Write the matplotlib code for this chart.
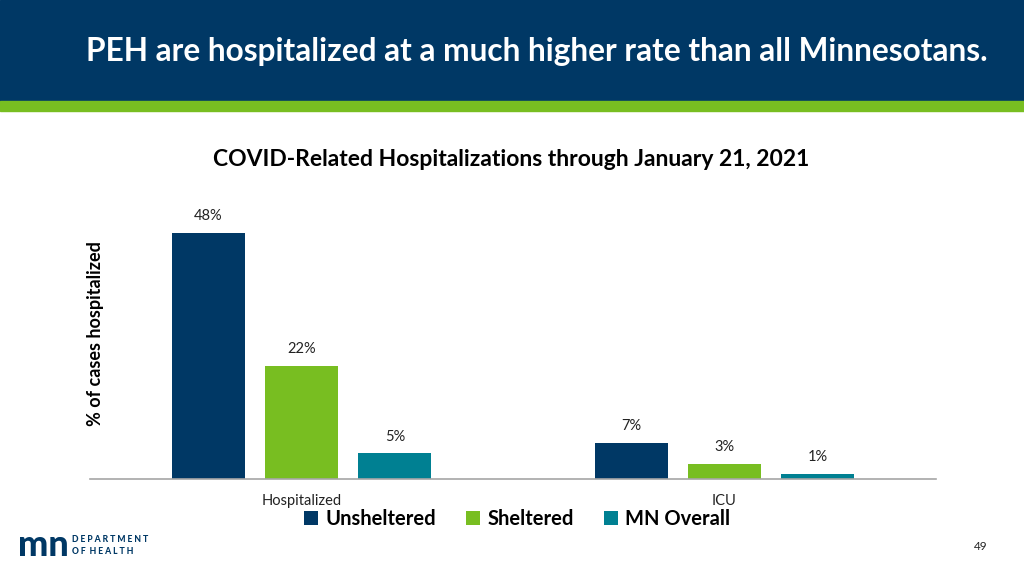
import matplotlib.pyplot as plt
import numpy as np
from matplotlib.patches import Rectangle

plt.rcParams['font.family'] = ['Lato', 'DejaVu Sans']

# data
groups = ["Hospitalized", "ICU"]
series = ["Unsheltered", "Sheltered", "MN Overall"]
unsheltered = [48, 7]
sheltered = [22, 3]
mn_overall = [5, 1]
colors = ["#003865", "#78BE21", "#008092"]

navy = "#003865"
green = "#78BE21"

fig = plt.figure(figsize=(10.24, 5.76), dpi=100)

# header banner
fig.patches.append(Rectangle((0, 1 - 101 / 576), 1, 101 / 576, transform=fig.transFigure,
                             color=navy, zorder=0))
fig.patches.append(Rectangle((0, 1 - 111 / 576), 1, 10 / 576, transform=fig.transFigure,
                             color=green, zorder=0))
fig.text(86 / 1024, 1 - 51 / 576, "PEH are hospitalized at a much higher rate than all Minnesotans.",
         color="white", fontsize=22.8, fontweight="bold", va="center", ha="left")

# chart
ax = fig.add_axes([90 / 1024, 1 - 479 / 576, 846 / 1024, 279 / 576])
x = np.arange(len(groups))
off = 0.221
w = 0.1726
for i, (vals, c) in enumerate(zip([unsheltered, sheltered, mn_overall], colors)):
    bars = ax.bar(x + (i - 1) * off, vals, width=w, color=c, label=series[i], zorder=2)
    for b, v in zip(bars, vals):
        ax.annotate(f"{v}%", (b.get_x() + b.get_width() / 2, v), xytext=(0, 7),
                    textcoords="offset points", ha="center", va="bottom",
                    fontsize=10.5, color="#222222")

ax.set_xlim(-0.5, 1.5)
ax.set_ylim(0, 54.4)
ax.set_yticks([])
ax.set_xticks(x)
ax.set_xticklabels(groups, fontsize=10.5, color="#222222")
ax.tick_params(axis="x", length=0, pad=11)
for s in ["top", "right", "left"]:
    ax.spines[s].set_visible(False)
ax.spines["bottom"].set_color("#a6a6a6")
ax.spines["bottom"].set_linewidth(1.2)

fig.text(96 / 1024, 1 - 334 / 576, "% of cases hospitalized", rotation=90, fontsize=13,
         fontweight="bold", va="center", ha="center", color="black")
fig.text(511 / 1024, 1 - 160 / 576, "COVID-Related Hospitalizations through January 21, 2021",
         fontsize=16.5, fontweight="bold", ha="center", va="center", color="black")

leg = fig.legend(loc="center", bbox_to_anchor=(517 / 1024, 1 - 519 / 576), ncol=3, frameon=False,
                 prop={"size": 14.5, "weight": "bold"}, handlelength=0.7, handleheight=0.7,
                 handletextpad=0.35, columnspacing=1.5, borderaxespad=0)

# logo
fig.text(18 / 1024, 1 - 546 / 576, "mn", fontsize=26, fontweight="black", color=navy,
         va="center", ha="left")
fig.text(72 / 1024, 1 - 540 / 576, "D E P A R T M E N T", fontsize=6.2, fontweight="black",
         color=navy, va="center", ha="left")
fig.text(72 / 1024, 1 - 551 / 576, "O F  H E A L T H", fontsize=6.2, fontweight="black",
         color=navy, va="center", ha="left")

fig.text(981 / 1024, 1 - 546 / 576, "49", fontsize=8.5, ha="center", va="center", color="#222222")

fig.savefig("out.png", dpi=100)
